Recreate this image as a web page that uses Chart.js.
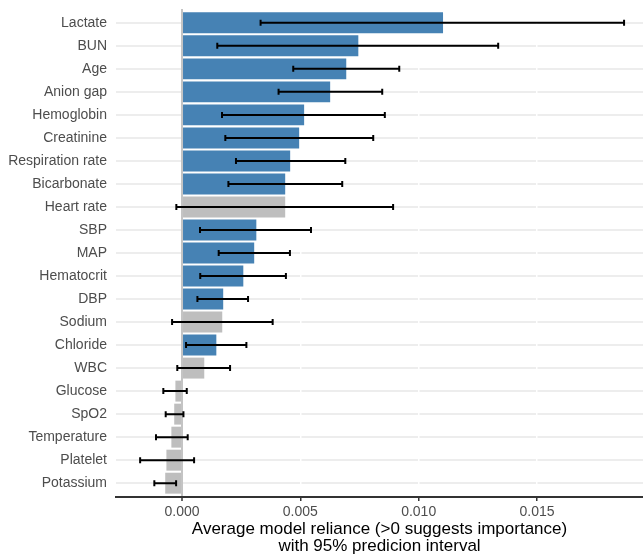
<!DOCTYPE html>
<html>
<head>
<meta charset="utf-8">
<script src="https://cdn.jsdelivr.net/npm/chart.js@4/dist/chart.umd.min.js"></script>
<style>
  html, body { margin: 0; padding: 0; background: #ffffff; }
  #wrap { width: 643px; height: 555px; }
</style>
</head>
<body>
<div id="wrap"><canvas id="c" width="643" height="555"></canvas></div>
<script>
const categories = ["Lactate", "BUN", "Age", "Anion gap", "Hemoglobin", "Creatinine",
  "Respiration rate", "Bicarbonate", "Heart rate", "SBP", "MAP", "Hematocrit", "DBP",
  "Sodium", "Chloride", "WBC", "Glucose", "SpO2", "Temperature", "Platelet", "Potassium"];
const reliance = [0.01103, 0.00745, 0.00694, 0.00626, 0.00516, 0.00495, 0.00457, 0.00436,
  0.00436, 0.00314, 0.00305, 0.00259, 0.00174, 0.00170, 0.00145, 0.00094, -0.00028,
  -0.00033, -0.00045, -0.00066, -0.00071];
const lower = [0.00332, 0.00149, 0.00470, 0.00408, 0.00169, 0.00183, 0.00228, 0.00196,
  -0.00024, 0.00076, 0.00155, 0.00077, 0.00065, -0.00042, 0.00017, -0.00020, -0.00079,
  -0.00069, -0.00110, -0.00177, -0.00117];
const upper = [0.01868, 0.01336, 0.00918, 0.00846, 0.00857, 0.00808, 0.00690, 0.00677,
  0.00892, 0.00545, 0.00456, 0.00439, 0.00279, 0.00383, 0.00272, 0.00203, 0.00020,
  0.00006, 0.00024, 0.00051, -0.00025];
const significant = [true, true, true, true, true, true, true, true, false, true, true,
  true, true, false, true, false, false, false, false, false, false];
const xTickValues = [0.000, 0.005, 0.010, 0.015];
const axisTitle = ["Average model reliance (>0 suggests importance)", "with 95% predicion interval"];

const FONT = "'Liberation Sans', Arial, Helvetica, sans-serif";

const errorBars = {
  id: 'errorBars',
  afterDatasetsDraw(chart) {
    const ctx = chart.ctx;
    const xs = chart.scales.x, ys = chart.scales.y;
    ctx.save();
    ctx.strokeStyle = '#000000';
    ctx.lineWidth = 2;
    const cap = 3;
    for (let i = 0; i < categories.length; i++) {
      const y = ys.getPixelForValue(i);
      const x1 = xs.getPixelForValue(lower[i]);
      const x2 = xs.getPixelForValue(upper[i]);
      ctx.beginPath();
      ctx.moveTo(x1, y); ctx.lineTo(x2, y);
      ctx.moveTo(x1, y - cap); ctx.lineTo(x1, y + cap);
      ctx.moveTo(x2, y - cap); ctx.lineTo(x2, y + cap);
      ctx.stroke();
    }
    ctx.restore();
  }
};

new Chart(document.getElementById('c'), {
  type: 'bar',
  data: {
    labels: categories,
    datasets: [{
      data: categories.map((c, i) => ({ x: reliance[i], y: i })),
      backgroundColor: significant.map(s => s ? '#4682B4' : '#BEBEBE'),
      borderWidth: 0,
      barPercentage: 0.91,
      categoryPercentage: 1
    }]
  },
  options: {
    indexAxis: 'y',
    responsive: false,
    animation: false,
    layout: { padding: { top: 9, right: 0, bottom: 0, left: 0 } },
    plugins: { legend: { display: false }, tooltip: { enabled: false } },
    scales: {
      x: {
        type: 'linear',
        min: -0.00279,
        max: 0.01948,
        offset: false,
        afterBuildTicks: s => { s.ticks = xTickValues.map(v => ({ value: v })); },
        afterFit: s => { s.height = 58; s.paddingLeft = 0; s.paddingRight = 0; },
        grid: {
          z: -1,
          offset: false,
          color: ctx => (ctx.tick && ctx.tick.value === 0) ? '#c4c4c4' : '#ffffff',
          lineWidth: ctx => (ctx.tick && ctx.tick.value === 0) ? 2 : 1.5,
          tickColor: '#333333',
          tickLength: 4,
          tickWidth: 1.5
        },
        border: { display: true, color: '#333333', width: 2 },
        ticks: {
          padding: 3,
          color: '#4d4d4d',
          font: { family: FONT, size: 14 },
          maxRotation: 0,
          callback: v => Number(v).toFixed(3)
        },
        title: {
          display: true,
          text: axisTitle,
          color: '#000000',
          font: { family: FONT, size: 17, lineHeight: 1.0 },
          padding: { top: 0, bottom: 0 }
        }
      },
      y: {
        type: 'linear',
        reverse: true,
        min: -0.6,
        max: 20.6,
        offset: false,
        afterBuildTicks: s => { s.ticks = categories.map((c, i) => ({ value: i })); },
        afterFit: s => { s.width = 116; s.paddingTop = 0; s.paddingBottom = 0; },
        grid: {
          z: -2,
          offset: false,
          color: '#ededed',
          lineWidth: 2,
          drawTicks: false
        },
        border: { display: false },
        ticks: {
          padding: 9,
          autoSkip: false,
          color: '#4d4d4d',
          font: { family: FONT, size: 14 },
          callback: v => categories[v]
        }
      }
    }
  },
  plugins: [errorBars]
});
</script>
</body>
</html>
